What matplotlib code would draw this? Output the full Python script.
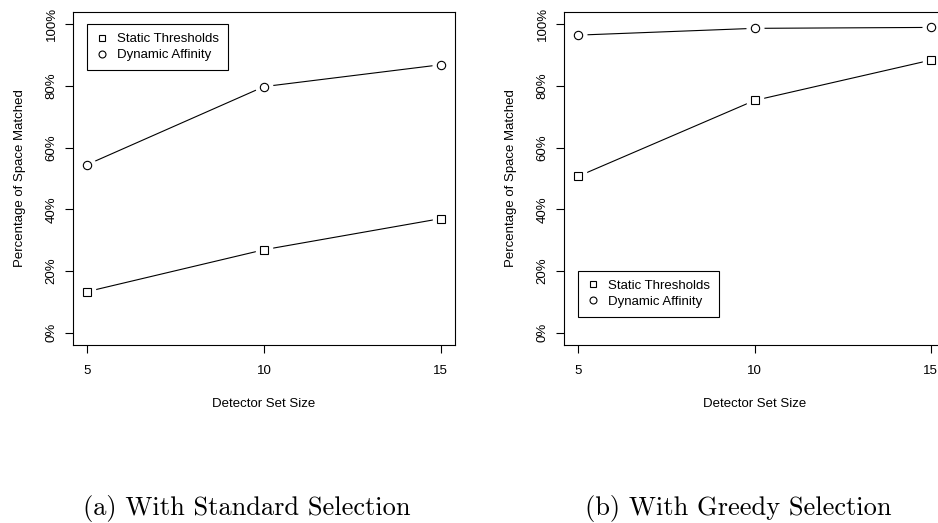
import matplotlib
matplotlib.use("Agg")
import matplotlib.pyplot as plt
from matplotlib.ticker import FuncFormatter

plt.rcParams['font.family'] = ['Liberation Sans', 'DejaVu Sans']

# data
detector_sizes = [5, 10, 15]
std_static = [13.3, 26.9, 37.0]
std_dynamic = [54.5, 79.8, 86.9]
greedy_static = [50.7, 75.3, 88.4]
greedy_dynamic = [96.5, 98.7, 99.0]
y_ticks = [0, 20, 40, 60, 80, 100]
series_names = ["Static Thresholds", "Dynamic Affinity"]
captions = ["(a) With Standard Selection", "(b) With Greedy Selection"]

W, H = 938, 523
FS = 9.5
fig = plt.figure(figsize=(W / 100, H / 100), dpi=100)

ax_a = fig.add_axes([73 / W, (H - 345) / H, 382 / W, 333 / H])
ax_b = fig.add_axes([564 / W, (H - 345) / H, 381 / W, 333 / H])


def draw_series(ax, xs, ys, marker):
    # R type="b": line with gaps around the points
    ax.plot(xs, ys, color='black', lw=0.8, zorder=1)
    ax.plot(xs, ys, ls='none', marker=marker, ms=12, mfc='white', mec='white', zorder=2)
    ax.plot(xs, ys, ls='none', marker=marker, ms=6, mfc='white', mec='black', mew=0.8, zorder=3)


def style_axes(ax):
    ax.set_xlim(4.6, 15.4)
    ax.set_ylim(-4, 104)
    ax.set_xticks(detector_sizes)
    ax.set_yticks(y_ticks)
    ax.yaxis.set_major_formatter(FuncFormatter(lambda v, p: f"{v:.0f}%"))
    ax.tick_params(axis='both', direction='out', length=6, width=0.8, labelsize=FS, color='black')
    ax.tick_params(axis='x', pad=8.5)
    ax.tick_params(axis='y', pad=5)
    for lab in ax.get_yticklabels():
        lab.set_rotation(90)
        lab.set_va('center')
    for sp in ax.spines.values():
        sp.set_linewidth(0.8)
    ax.set_xlabel("Detector Set Size", fontsize=FS, labelpad=15)
    ax.set_ylabel("Percentage of Space Matched", fontsize=FS, labelpad=14)


for ax, st, dy, anchor in [(ax_a, std_static, std_dynamic, (5, 100)),
                           (ax_b, greedy_static, greedy_dynamic, (5, 20))]:
    draw_series(ax, detector_sizes, st, 's')
    draw_series(ax, detector_sizes, dy, 'o')
    style_axes(ax)
    h_s, = ax.plot([], [], ls='none', marker='s', ms=5, mfc='white', mec='black', mew=0.8)
    h_d, = ax.plot([], [], ls='none', marker='o', ms=5, mfc='white', mec='black', mew=0.8)
    leg = ax.legend([h_s, h_d], series_names, loc='upper left', bbox_to_anchor=anchor,
                    bbox_transform=ax.transData, borderaxespad=0, fancybox=False,
                    edgecolor='black', framealpha=1, fontsize=FS, handlelength=0.9,
                    handletextpad=0.75, labelspacing=0.3, borderpad=0.65)
    leg.get_frame().set_linewidth(0.8)

fig.text(247 / W, 1 - 509 / H, captions[0], family='cmr10', fontsize=19, ha='center', va='center')
fig.text(738 / W, 1 - 509 / H, captions[1], family='cmr10', fontsize=19, ha='center', va='center')

fig.savefig("out.png", dpi=100)
